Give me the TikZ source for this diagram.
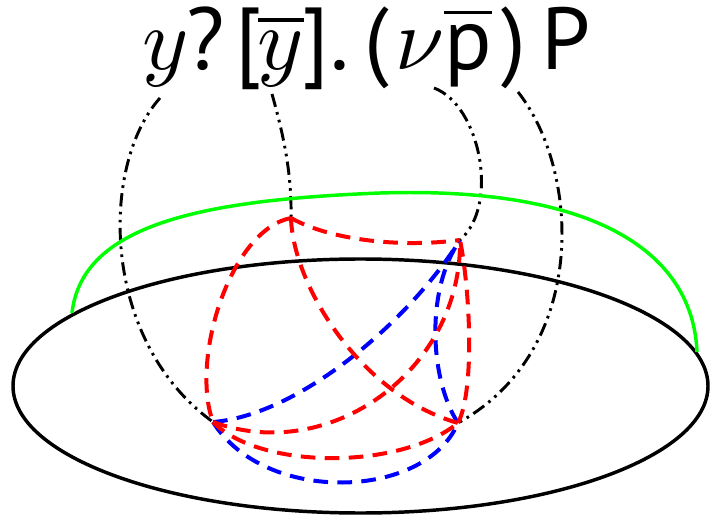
\documentclass[tikz,border=0pt]{standalone}
\usepackage{fontspec}
\setmainfont{PT Sans}
\usetikzlibrary{positioning, calc}

\newcommand{\tsym}[1]{\scalebox{6.6}{\normalsize #1}}

\tikzset{
  glyph/.style={anchor=base, inner sep=0pt},
  surface/.style={line width=2.6pt},
  rim/.style={green, line width=2.6pt},
  wire/.style={line width=2.2pt, dash pattern=on 10pt off 4pt on 2pt off 4pt on 2pt off 4pt},
  redwire/.style={red, line width=3pt, dash pattern=on 11pt off 7pt},
  bluewire/.style={blue, line width=3pt, dash pattern=on 11pt off 7pt}
}

\begin{document}
\begin{tikzpicture}[x=0.75pt, y=-0.75pt]
  \useasboundingbox (0,0) rectangle (711,524);

  % the term, piece by piece
  \node[glyph] (tY)   at (166,70) {\tsym{$y$}};
  \node[glyph] (tQ)   at (206,70) {\tsym{?}};
  \node[glyph] (tLb)  at (249,70) {\tsym{[}};
  \node[glyph] (tYb)  at (281,70) {\tsym{$\overline{y}$}};
  \node[glyph] (tRb)  at (316,70) {\tsym{]}};
  \node[glyph] (tDot) at (340,70) {\tsym{.}};
  \node[glyph] (tLp)  at (377,70) {\tsym{(}};
  \node[glyph] (tNu)  at (420,70) {\tsym{$\nu$}};
  \node[glyph] (tPb)  at (468,70) {\tsym{$\overline{\mbox{p}}$}};
  \node[glyph] (tRp)  at (514,70) {\tsym{)}};
  \node[glyph] (tP)   at (566,70) {\tsym{P}};

  % ports under the term
  \coordinate (y1) at (160,98);
  \coordinate (y2) at (272,94);
  \coordinate (nu) at (434,88);
  \coordinate (par) at (518,92);

  % points on the sheet
  \coordinate (A) at (213,422);
  \coordinate (B) at (458,423);
  \coordinate (C) at (291,218);
  \coordinate (D) at (460,240);

  % sheet
  \draw[surface] (360.5,386) ellipse [x radius=347.5, y radius=127];

  % wires from the term
  \draw[wire] (y1) .. controls (100,165) and (100,340) .. (A);
  \draw[wire] (y2) .. controls (282,130) and (292,170) .. (C);
  \draw[wire] (nu) .. controls (480,105) and (500,205) .. (D);
  \draw[wire] (par) .. controls (580,170) and (590,350) .. (B);

  % blue edges
  \draw[bluewire] (A) .. controls (300,415) and (410,320) .. (D);
  \draw[bluewire] (B) .. controls (430,380) and (425,290) .. (D);
  \draw[bluewire] (A) .. controls (265,505) and (425,500) .. (B);

  % red edges
  \draw[redwire] (C) .. controls (230,230) and (190,360) .. (A);
  \draw[redwire] (C) .. controls (293,285) and (360,395) .. (B);
  \draw[redwire] (C) .. controls (330,240) and (400,248) .. (D);
  \draw[redwire] (A) .. controls (330,465) and (462,370) .. (D);
  \draw[redwire] (A) .. controls (260,470) and (400,470) .. (B);
  \draw[redwire] (B) .. controls (475,390) and (470,290) .. (D);

  % green lid
  \coordinate (gl) at (72,313);
  \coordinate (gr) at (697,352);
  \draw[rim] (gl) .. controls (82,225) and (200,200) .. (380,193)
    .. controls (600,186) and (693,255) .. (gr);
\end{tikzpicture}
\end{document}
